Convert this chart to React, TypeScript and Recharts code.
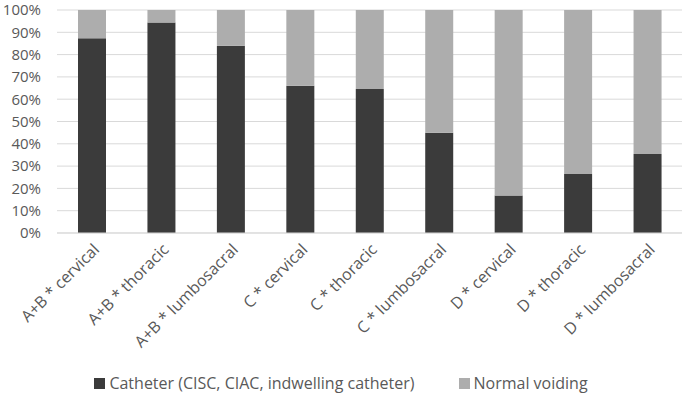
import React from "react";
import { BarChart, Bar, XAxis, YAxis, CartesianGrid, Legend } from "recharts";

const categories = [
  "A+B * cervical",
  "A+B * thoracic",
  "A+B * lumbosacral",
  "C * cervical",
  "C * thoracic",
  "C * lumbosacral",
  "D * cervical",
  "D * thoracic",
  "D * lumbosacral",
];
const catheter = [87.3, 94.4, 84, 66, 64.6, 45, 16.8, 26.5, 35.4];
const normalVoiding = catheter.map((v) => 100 - v);
const yTicks = [0, 10, 20, 30, 40, 50, 60, 70, 80, 90, 100];

const data = categories.map((name, i) => ({
  name,
  catheter: catheter[i],
  normal: normalVoiding[i],
}));

const FONT = "'Open Sans', sans-serif";
const TEXT = "#595959";

const AngledTick = (props: any) => {
  const { x, y, payload } = props;
  return (
    <g transform={`translate(${x + 5},${y + 6})`}>
      <text
        x={0}
        y={0}
        dy={5}
        textAnchor="end"
        fill={TEXT}
        fontSize={16}
        fontFamily={FONT}
        transform="rotate(-45)"
      >
        {payload.value}
      </text>
    </g>
  );
};

const LegendContent = (props: any) => {
  const { payload } = props;
  return (
    <div style={{ display: "flex", justifyContent: "center", gap: 44, fontFamily: FONT, fontSize: 16, color: TEXT }}>
      {payload.map((p: any) => (
        <div key={p.value} style={{ display: "flex", alignItems: "center" }}>
          <span style={{ width: 11, height: 11, background: p.color, display: "inline-block", marginRight: 4 }} />
          {p.value}
        </div>
      ))}
    </div>
  );
};

export default function App() {
  return (
    <div style={{ position: "absolute", left: 0, top: 0, background: "#fff" }}>
      <BarChart
        width={685}
        height={398}
        data={data}
        margin={{ top: 10, right: 3, left: 0, bottom: 4 }}
        barSize={28}
      >
        <CartesianGrid vertical={false} stroke="#d9d9d9" />
        <XAxis
          dataKey="name"
          interval={0}
          tick={<AngledTick />}
          tickLine={false}
          axisLine={{ stroke: "#d9d9d9" }}
          height={139}
        />
        <YAxis
          domain={[0, 100]}
          ticks={yTicks}
          interval={0}
          tickFormatter={(v) => `${v}%`}
          tick={{ fill: TEXT, fontSize: 15, fontFamily: FONT }}
          tickLine={false}
          axisLine={false}
          tickSize={0}
          tickMargin={16}
          width={57}
        />
        <Legend verticalAlign="bottom" content={<LegendContent />} />
        <Bar
          dataKey="catheter"
          name="Catheter (CISC, CIAC, indwelling catheter)"
          stackId="a"
          fill="#3b3b3b"
          isAnimationActive={false}
        />
        <Bar
          dataKey="normal"
          name="Normal voiding"
          stackId="a"
          fill="#adadad"
          isAnimationActive={false}
        />
      </BarChart>
    </div>
  );
}
